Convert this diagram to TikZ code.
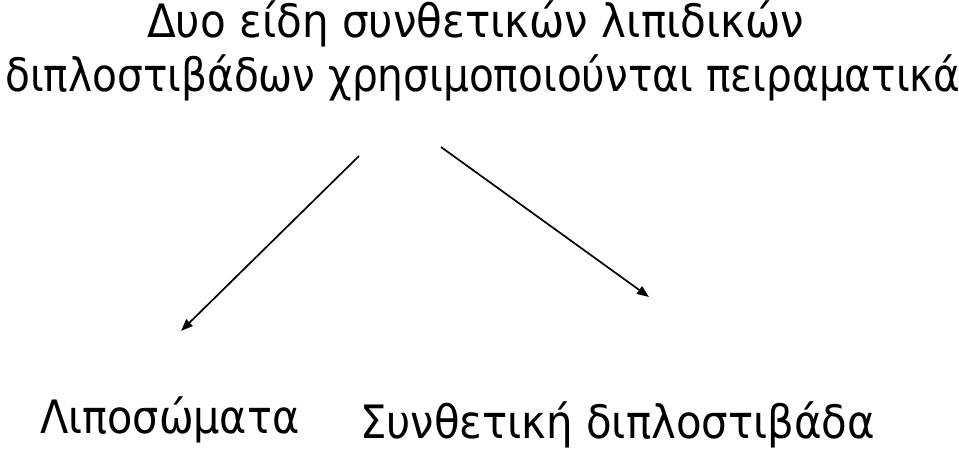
\documentclass[tikz,border=0pt]{standalone}
\usepackage{fontspec}
\setmainfont{DejaVu Sans}
\usetikzlibrary{arrows.meta}
\begin{document}
\begin{tikzpicture}[x=1pt,y=-1pt,
  txt/.style={anchor=base west,inner sep=0pt,font=\fontsize{46}{52}\selectfont},
  arr/.style={-{Triangle[length=12pt,width=9pt]},line width=1.7pt}]
\useasboundingbox[fill=white] (0,0) rectangle (959,450);
\node[txt] (t1) at (147,37) {\scalebox{0.915}[1]{Δυο είδη συνθετικών λιπιδικών}};
\node[txt] (t2) at (5,91) {\scalebox{0.884}[1]{διπλοστιβάδων χρησιμοποιούνται πειραματικά}};
\node[txt] (l) at (40,433) {\scalebox{0.9}[1]{Λιποσώματα}};
\node[txt] (r) at (360,438) {\scalebox{0.91}[1]{Συνθετική διπλοστιβάδα}};
\coordinate (a1) at (359,156);
\coordinate (a2) at (441,147);
\coordinate (b1) at (181,331);
\coordinate (b2) at (649,297);
\draw[arr] (a1) -- (b1);
\draw[arr] (a2) -- (b2);
\end{tikzpicture}
\end{document}
